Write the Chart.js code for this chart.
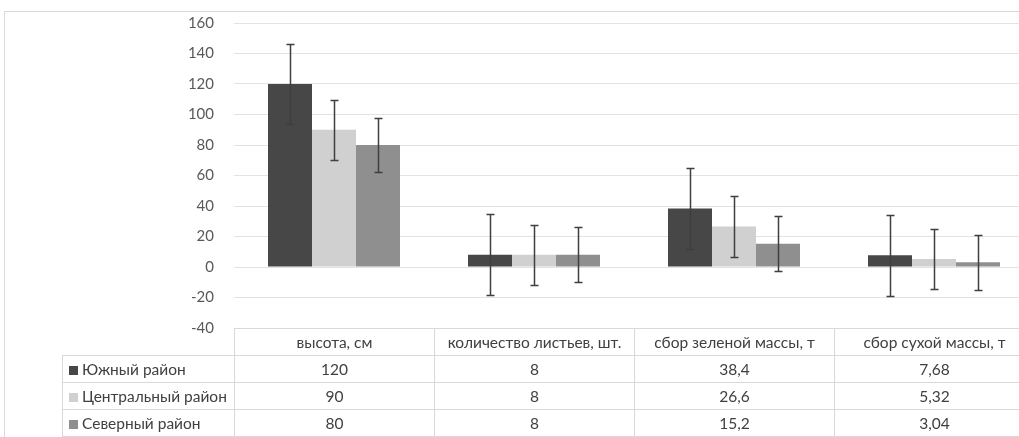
<!DOCTYPE html>
<html><head><meta charset="utf-8">
<script src="https://cdn.jsdelivr.net/npm/chart.js@4"></script>
<style>
html,body{margin:0;padding:0;width:1019px;height:437px;overflow:hidden;background:#fff;font-family:Lato,"Noto Sans",sans-serif;}
#frame{position:absolute;left:4px;top:11px;width:1100px;height:500px;border:1px solid #d9d9d9;box-sizing:border-box;}
#wrap{position:absolute;left:0;top:-6px;width:1040px;height:363px;}
#tbl{position:absolute;border-collapse:collapse;table-layout:fixed;}
#tbl td{border:1px solid #d9d9d9;height:26px;line-height:26px;padding:0;text-align:center;font-size:15.5px;color:#404040;white-space:nowrap;overflow:hidden;}
#tbl td.lab{text-align:left;padding-left:6px;}
#tbl td.blank{border-top:none;border-left:none;}
.key{display:inline-block;width:9px;height:9px;margin-right:4px;vertical-align:0px;}
</style></head><body>
<div id="frame"></div>
<div id="wrap"><canvas id="c"></canvas></div>
<table id="tbl"></table>
<script>
const categories = ['высота, см', 'количество листьев, шт.', 'сбор зеленой массы, т', 'сбор сухой массы, т'];
const seriesNames = ['Южный район', 'Центральный район', 'Северный район'];
const southValues = [120, 8, 38.4, 7.68];
const centralValues = [90, 8, 26.6, 5.32];
const northValues = [80, 8, 15.2, 3.04];
const southErrors = [26.5, 26.5, 26.5, 26.5];
const centralErrors = [19.8, 19.8, 19.8, 19.8];
const northErrors = [18, 18, 18, 18];
const yMin = -40, yMax = 160, yStep = 20;
const seriesColors = ['#474747', '#d0d0d0', '#8f8f8f'];

const allValues = [southValues, centralValues, northValues];
const allErrors = [southErrors, centralErrors, northErrors];

const errorBarPlugin = {
  id: 'errorBars',
  afterDatasetsDraw(chart) {
    const ctx = chart.ctx;
    const ys = chart.scales.y;
    ctx.save();
    ctx.strokeStyle = '#3f3f3f';
    ctx.lineWidth = 1.5;
    chart.data.datasets.forEach((ds, i) => {
      const meta = chart.getDatasetMeta(i);
      meta.data.forEach((el, j) => {
        const v = ds.data[j], e = ds.errors[j];
        const yt = Math.round(ys.getPixelForValue(v + e)) + 0.5;
        const yb = Math.round(ys.getPixelForValue(v - e)) + 0.5;
        const x = Math.round(el.x) + 0.5;
        ctx.beginPath();
        ctx.moveTo(x, yt); ctx.lineTo(x, yb);
        ctx.moveTo(x - 4, yt); ctx.lineTo(x + 4, yt);
        ctx.moveTo(x - 4, yb); ctx.lineTo(x + 4, yb);
        ctx.stroke();
      });
    });
    ctx.restore();
  }
};

const chart = new Chart(document.getElementById('c'), {
  type: 'bar',
  data: {
    labels: categories,
    datasets: seriesNames.map((n, i) => ({
      label: n,
      data: allValues[i],
      errors: allErrors[i],
      backgroundColor: seriesColors[i],
      borderWidth: 0,
      categoryPercentage: 0.66,
      barPercentage: 1
    }))
  },
  options: {
    responsive: true,
    maintainAspectRatio: false,
    animation: false,
    layout: { padding: { left: 4, right: 6, top: 2, bottom: 9 } },
    plugins: { legend: { display: false }, tooltip: { enabled: false } },
    scales: {
      x: { display: false },
      y: {
        min: yMin, max: yMax,
        ticks: { stepSize: yStep, color: '#595959', font: { family: 'Lato, "Noto Sans", sans-serif', size: 15 }, padding: 20 },
        grid: { color: '#e3e3e3', lineWidth: 1, drawTicks: false },
        border: { display: false },
        afterFit(s) { s.width = 230; }
      }
    }
  },
  plugins: [errorBarPlugin]
});

// data table
(function buildTable() {
  const tbl = document.getElementById('tbl');
  const wrap = document.getElementById('wrap');
  const ca = chart.chartArea;
  const colW = (ca.right - ca.left) / categories.length;
  const firstW = 172;
  tbl.style.left = (ca.left - firstW) + 'px';
  tbl.style.top = Math.round(ca.bottom + wrap.offsetTop) + 'px';
  const cg = document.createElement('colgroup');
  const c0 = document.createElement('col'); c0.style.width = firstW + 'px'; cg.appendChild(c0);
  categories.forEach(() => { const c = document.createElement('col'); c.style.width = colW + 'px'; cg.appendChild(c); });
  tbl.appendChild(cg);
  tbl.style.width = (firstW + colW * categories.length) + 'px';
  const hr = document.createElement('tr');
  const hb = document.createElement('td'); hb.className = 'blank'; hr.appendChild(hb);
  categories.forEach(c => { const td = document.createElement('td'); td.textContent = c; hr.appendChild(td); });
  tbl.appendChild(hr);
  seriesNames.forEach((n, i) => {
    const tr = document.createElement('tr');
    const lab = document.createElement('td'); lab.className = 'lab';
    const k = document.createElement('span'); k.className = 'key'; k.style.background = seriesColors[i];
    lab.appendChild(k); lab.appendChild(document.createTextNode(n));
    tr.appendChild(lab);
    allValues[i].forEach(v => { const td = document.createElement('td'); td.textContent = String(v).replace('.', ','); tr.appendChild(td); });
    tbl.appendChild(tr);
  });
})();
</script>
</body></html>
